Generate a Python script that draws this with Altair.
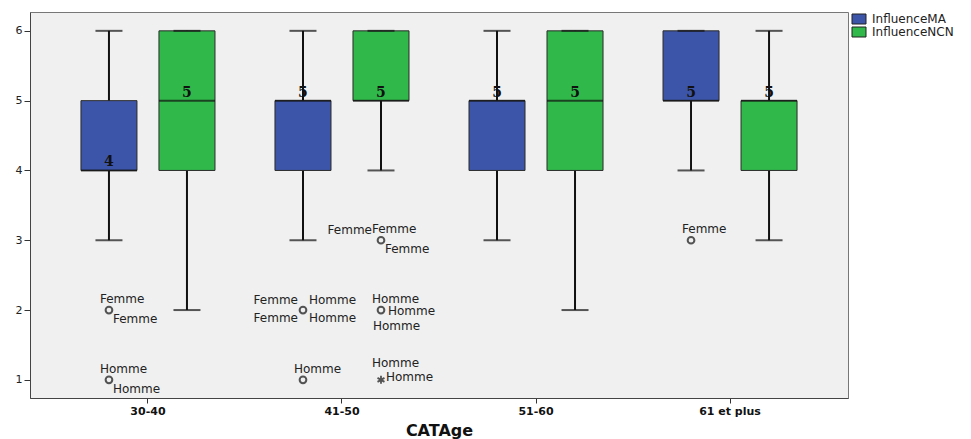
import altair as alt
import pandas as pd

categories = ["30-40", "41-50", "51-60", "61 et plus"]
series = ["InfluenceMA", "InfluenceNCN"]
colors = ["#3d55a8", "#30b84a"]

ma_low = [3, 3, 3, 4]
ma_q1 = [4, 4, 4, 5]
ma_median = [4, 5, 5, 5]
ma_q3 = [5, 5, 5, 6]
ma_high = [6, 6, 6, 6]

ncn_low = [2, 4, 2, 3]
ncn_q1 = [4, 5, 4, 4]
ncn_median = [5, 5, 5, 5]
ncn_q3 = [6, 6, 6, 5]
ncn_high = [6, 6, 6, 6]

out_cat = ["30-40", "30-40", "41-50", "41-50", "41-50", "41-50", "41-50", "61 et plus"]
out_series = ["InfluenceMA", "InfluenceMA", "InfluenceMA", "InfluenceMA",
              "InfluenceNCN", "InfluenceNCN", "InfluenceNCN", "InfluenceMA"]
out_value = [2, 1, 2, 1, 3, 2, 1, 3]
out_kind = ["o", "o", "o", "o", "o", "o", "*", "o"]

lab_cat = ["30-40", "30-40", "30-40", "30-40",
           "41-50", "41-50", "41-50", "41-50", "41-50",
           "41-50", "41-50", "41-50",
           "41-50", "41-50", "41-50",
           "41-50", "41-50",
           "61 et plus"]
lab_series = ["InfluenceMA"] * 4 + ["InfluenceMA"] * 5 + ["InfluenceNCN"] * 8 + ["InfluenceMA"]
lab_value = [2, 2, 1, 1,
             2, 2, 2, 2, 1,
             3, 3, 3,
             2, 2, 2,
             1, 1,
             3]
lab_text = ["Femme", "Femme", "Homme", "Homme",
            "Femme", "Homme", "Femme", "Homme", "Homme",
            "Femme", "Femme", "Femme",
            "Homme", "Homme", "Homme",
            "Homme", "Homme",
            "Femme"]
lab_place = ["ul", "lr", "ul", "lr",
             "l_up", "r_up", "l_dn", "r_dn", "ul",
             "l_far", "ul", "lr",
             "ul", "r", "dn",
             "ul_hi", "r_hi",
             "ul"]

# label placement styles: (align, dx, dy)
placements = {
    "ul": ("left", -9, -11),
    "lr": ("left", 4, 9),
    "l_up": ("right", -5, -10),
    "l_dn": ("right", -5, 8),
    "r_up": ("left", 6, -10),
    "r_dn": ("left", 6, 8),
    "l_far": ("right", -9, -10),
    "r": ("left", 7, 1),
    "dn": ("left", -8, 16),
    "ul_hi": ("left", -9, -17),
    "r_hi": ("left", 5, -3),
}

rows = []
for i, c in enumerate(categories):
    rows.append(dict(cat=c, series=series[0], low=ma_low[i], q1=ma_q1[i],
                     median=ma_median[i], q3=ma_q3[i], high=ma_high[i]))
    rows.append(dict(cat=c, series=series[1], low=ncn_low[i], q1=ncn_q1[i],
                     median=ncn_median[i], q3=ncn_q3[i], high=ncn_high[i]))
box_df = pd.DataFrame(rows)
out_df = pd.DataFrame(dict(cat=out_cat, series=out_series, value=out_value, kind=out_kind))
lab_df = pd.DataFrame(dict(cat=lab_cat, series=lab_series, value=lab_value,
                           text=lab_text, place=lab_place))

FONT = "DejaVu Sans"

def X():
    return alt.X("cat:N", sort=categories,
                 scale=alt.Scale(domain=categories, paddingInner=0, paddingOuter=0.108),
                 axis=alt.Axis(title="CATAge", labelAngle=0, labelFont=FONT,
                               labelFontWeight="bold", labelFontSize=11, labelColor="#111",
                               tickSize=5, tickColor="#333", domainColor="#444",
                               labelPadding=2, titleFont=FONT, titleFontWeight="bold",
                               titleFontSize=16, titleColor="#111", titlePadding=6,
                               grid=False))

def XO():
    return alt.XOffset("series:N", sort=series,
                       scale=alt.Scale(domain=series, paddingInner=0.282, paddingOuter=0.3846))

def Y(field):
    return alt.Y(field, scale=alt.Scale(domain=[0.74, 6.27], nice=False, zero=False),
                 axis=alt.Axis(title=None, values=[1, 2, 3, 4, 5, 6], labelFont=FONT,
                               labelFontSize=11, labelColor="#222", tickSize=6,
                               tickColor="#333", domainColor="#444", labelPadding=2,
                               grid=False))

base = alt.Chart(box_df)

whisker = base.mark_rule(color="#111", strokeWidth=2).encode(
    x=X(), xOffset=XO(), y=Y("low:Q"), y2="high:Q")

box = base.mark_bar(stroke="#2a2a2a", strokeWidth=1, opacity=1).encode(
    x=X(), xOffset=XO(), y=Y("q1:Q"), y2="q3:Q",
    color=alt.Color("series:N", sort=series,
                    scale=alt.Scale(domain=series, range=colors),
                    legend=alt.Legend(title=None, orient="none", legendX=823, legendY=1,
                                      symbolType="M-1.4,-1H1.4V1H-1.4Z", symbolSize=100,
                                      symbolStrokeColor="#222", symbolStrokeWidth=1,
                                      labelFont=FONT, labelFontSize=12, labelColor="#222",
                                      labelOffset=7, rowPadding=-4, padding=0)))

cap_low = base.mark_tick(color="#111", size=27, thickness=2).encode(
    x=X(), xOffset=XO(), y=Y("low:Q"))
cap_high = base.mark_tick(color="#111", size=27, thickness=2).encode(
    x=X(), xOffset=XO(), y=Y("high:Q"))
med = base.mark_tick(color="#111", size=56, thickness=2).encode(
    x=X(), xOffset=XO(), y=Y("median:Q"))
med_txt = base.mark_text(font="DejaVu Serif", fontWeight="bold", fontSize=14,
                         baseline="bottom", dy=-1, color="#111").encode(
    x=X(), xOffset=XO(), y=Y("median:Q"), text="median:Q")

circles = alt.Chart(out_df).transform_filter(alt.datum.kind == "o").mark_point(
    shape="circle", filled=False, size=45, strokeWidth=2, color="#111").encode(
    x=X(), xOffset=XO(), y=Y("value:Q"))
stars = alt.Chart(out_df).transform_filter(alt.datum.kind == "*").mark_point(
    shape="M0,-1L0,1M-0.87,-0.5L0.87,0.5M-0.87,0.5L0.87,-0.5", filled=False,
    size=64, strokeWidth=1.8, color="#111").encode(
    x=X(), xOffset=XO(), y=Y("value:Q"))

label_layers = []
for key, (align, dx, dy) in placements.items():
    label_layers.append(
        alt.Chart(lab_df).transform_filter(alt.datum.place == key).mark_text(
            font=FONT, fontSize=12, align=align, baseline="middle", dx=dx, dy=dy,
            color="#222").encode(x=X(), xOffset=XO(), y=Y("value:Q"), text="text:N"))

chart = alt.layer(whisker, box, cap_low, cap_high, med, med_txt, circles, stars,
                  *label_layers).properties(
    width=818, height=386,
    autosize=alt.AutoSizeParams(type="none"),
    padding={"left": 22, "top": 4, "right": 115, "bottom": 42},
).configure_view(fill="#f0f0f0", stroke="#777", strokeWidth=1)

chart.save("out.html", embed_options={"renderer": "svg", "actions": False})
